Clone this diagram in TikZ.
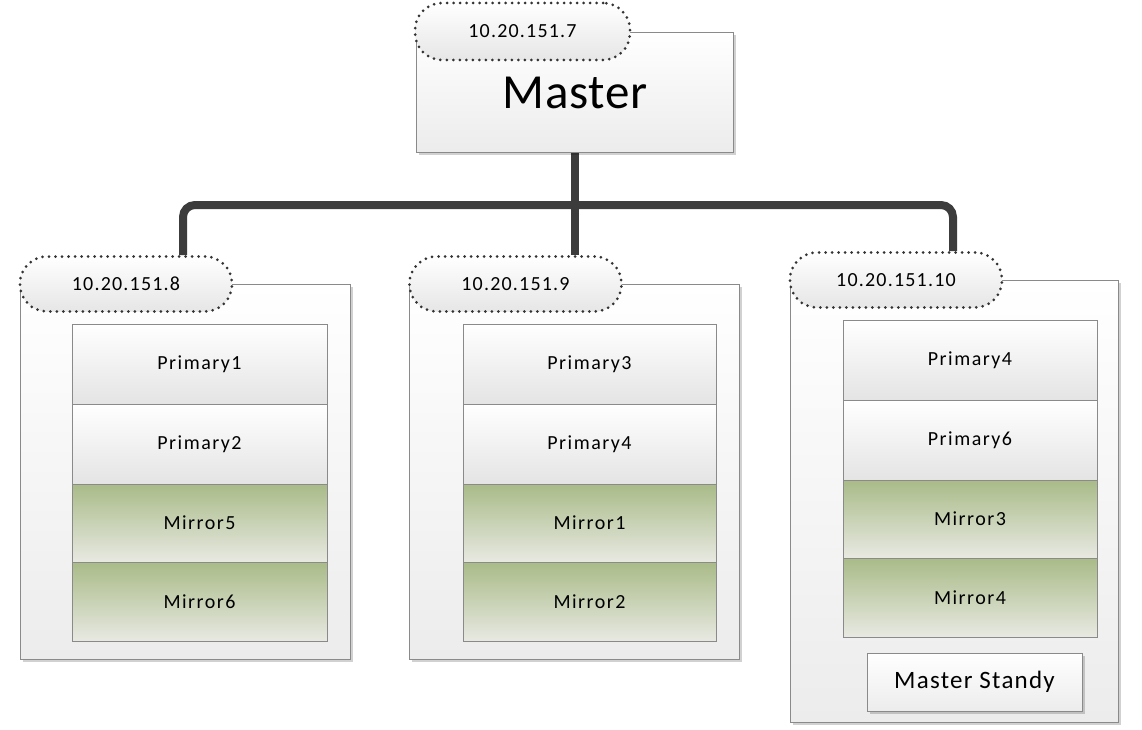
\documentclass[tikz,border=0pt]{standalone}
\usepackage{fontspec}
\setmainfont{Carlito}
\newfontfamily\rowfont[LetterSpace=7.5]{Carlito}
\newfontfamily\ipfont[LetterSpace=6]{Carlito}
\newfontfamily\stfont[LetterSpace=5]{Carlito}
\newfontfamily\mfont[LetterSpace=1.5]{Carlito}
\usetikzlibrary{shadows,backgrounds}
\definecolor{edge}{HTML}{8A8A8A}
\definecolor{conncol}{HTML}{3C3C3C}
\definecolor{mirtop}{HTML}{A9BB88}
\definecolor{mirbot}{HTML}{E8E9E2}
\definecolor{pribot}{HTML}{E4E4E4}
\definecolor{boxbot}{HTML}{ECECEC}
\definecolor{ipbot}{HTML}{E6E6E6}
\tikzset{
  shd/.style={drop shadow={shadow xshift=3pt,shadow yshift=-3pt,opacity=0.18,fill=black}},
  serverbox/.style={draw=edge, line width=0.8pt, top color=white, bottom color=boxbot, shd, inner sep=0pt},
  ipbubble/.style={draw=black!80, line width=3pt, dash pattern=on 0pt off 6.5pt, line cap=round,
     rounded corners=27pt, top color=white, bottom color=ipbot, inner sep=0pt,
     minimum width=212pt, minimum height=55pt, font=\ipfont\fontsize{20}{20}\selectfont},
  rowbox/.style={draw=edge, line width=0.8pt, inner sep=0pt, font=\rowfont\fontsize{20}{20}\selectfont},
  primrow/.style={rowbox, top color=white, bottom color=pribot},
  mirrow/.style={rowbox, top color=mirtop, bottom color=mirbot},
  conn/.style={draw=conncol, line width=8pt, rounded corners=12pt},
}
\begin{document}
\begin{tikzpicture}[x=1pt,y=-1pt]
\useasboundingbox (0,0) rectangle (1142,730);
% Master
\node[serverbox, minimum width=317pt, minimum height=120pt] (master) at (574.5,92) {};
\node at (575,93) (mastertext) {\mfont\fontsize{49}{49}\selectfont Master};
\node[ipbubble, minimum width=215pt, minimum height=57pt] (masterip) at (522.5,31.5) {10.20.151.7};
% Server 1
\node[serverbox, minimum width=330pt, minimum height=375pt] (s1) at (185,471.5) {};
\node[ipbubble] (s1ip) at (126,284) {10.20.151.8};
\node[primrow, minimum width=255pt, minimum height=80pt] (s1r1) at (199.5,364) {Primary1};
\node[primrow, minimum width=255pt, minimum height=80pt] (s1r2) at (199.5,444) {Primary2};
\node[mirrow, minimum width=255pt, minimum height=78pt] (s1r3) at (199.5,523) {Mirror5};
\node[mirrow, minimum width=255pt, minimum height=79pt] (s1r4) at (199.5,601.5) {Mirror6};
% Server 2
\node[serverbox, minimum width=330pt, minimum height=375pt] (s2) at (574,471.5) {};
\node[ipbubble] (s2ip) at (515.5,284) {10.20.151.9};
\node[primrow, minimum width=253pt, minimum height=80pt] (s2r1) at (589.5,364) {Primary3};
\node[primrow, minimum width=253pt, minimum height=80pt] (s2r2) at (589.5,444) {Primary4};
\node[mirrow, minimum width=253pt, minimum height=78pt] (s2r3) at (589.5,523) {Mirror1};
\node[mirrow, minimum width=253pt, minimum height=79pt] (s2r4) at (589.5,601.5) {Mirror2};
% Server 3
\node[serverbox, minimum width=328pt, minimum height=442pt] (s3) at (954,501) {};
\node[ipbubble] (s3ip) at (896,280) {10.20.151.10};
\node[primrow, minimum width=254pt, minimum height=80pt] (s3r1) at (970,360) {Primary4};
\node[primrow, minimum width=254pt, minimum height=80pt] (s3r2) at (970,440) {Primary6};
\node[mirrow, minimum width=254pt, minimum height=78pt] (s3r3) at (970,519) {Mirror3};
\node[mirrow, minimum width=254pt, minimum height=79pt] (s3r4) at (970,597.5) {Mirror4};
\node[serverbox, minimum width=215pt, minimum height=58pt, font=\stfont\fontsize{25}{25}\selectfont] (standy) at (974.5,682) {Master Standy};
% Connectors
\coordinate (bus) at (574,205);
\begin{pgfonlayer}{background}
\fill[white] (0,0) rectangle (1142,730);
\draw[conn] (master.south) -- (master.south |- s2ip.north);
\draw[conn] ([xshift=57pt]s1ip.north) |- (bus) -| ([xshift=57pt]s3ip.north);
\end{pgfonlayer}
\end{tikzpicture}
\end{document}
